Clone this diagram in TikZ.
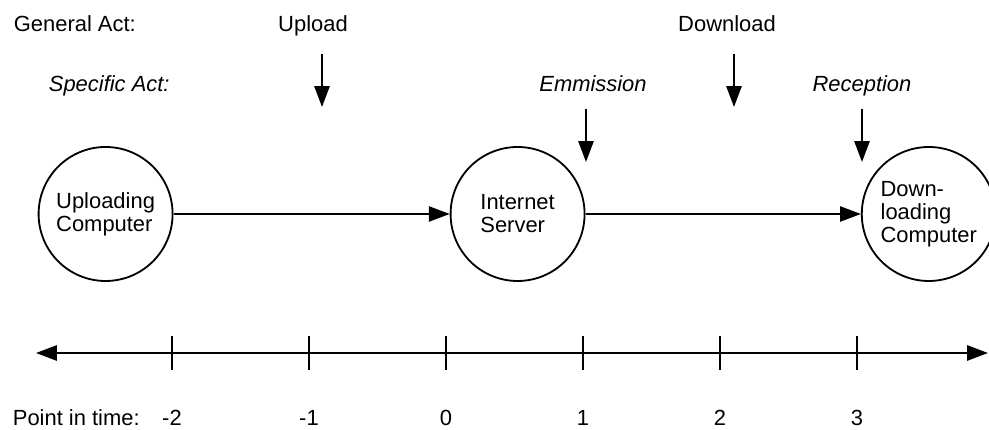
\documentclass[tikz,border=0pt]{standalone}
\usepackage{fontspec}
\setmainfont{Liberation Sans}
\usetikzlibrary{arrows.meta,positioning}
\newcommand{\bodyfont}{\fontsize{15.6pt}{16.4pt}\selectfont}
\newcommand{\tickstep}{3.425cm}
\newcommand{\tickheight}{.43cm}
\newcommand{\circlesize}{3.35cm}
\newcommand{\circlelevel}{3.475cm}
\newcommand{\uploadpos}{-8.51cm}
\newcommand{\serverpos}{1.79cm}
\newcommand{\downloadpos}{12.07cm}
\newcommand{\generallevel}{8.025cm}
\newcommand{\specificlevel}{6.525cm}
\newcommand{\labelheight}{-1.825cm}
\newcommand{\upperarrowtop}{7.475cm}
\newcommand{\upperarrowtip}{6.15cm}
\newcommand{\lowerarrowtop}{6.1cm}
\newcommand{\lowerarrowtip}{4.775cm}
\newcommand{\timeleftpos}{-10.25cm}
\newcommand{\timerightpos}{13.55cm}

\begin{document}
\begin{tikzpicture}[>={Triangle[length=.52cm,width=.38cm]},line width=1.3pt]

\tikzstyle{station}=[draw,circle,minimum size=\circlesize,inner sep=0pt,align=left,font=\bodyfont]
\tikzstyle{act}=[anchor=base,inner sep=0pt,font=\bodyfont]
\tikzstyle{specific}=[act,font=\bodyfont\itshape]

%% fix the page size
\useasboundingbox (-11.15cm,-1.925cm) rectangle (13.575cm,8.825cm);

%% three computers
\node (upl) [station, xshift=\uploadpos, yshift=\circlelevel] {Uploading\\Computer};
\node (srv) [station, xshift=\serverpos, yshift=\circlelevel] {Internet\\Server};
\node (dnl) [station, xshift=\downloadpos, yshift=\circlelevel] {Down-\\loading\\Computer};

%% transfer arrows
\draw[->] (upl.east)--(srv.west);
\draw[->] (srv.east)--(dnl.west);

%% general acts
\node (general) [act, anchor=base west] at (-10.825cm,\generallevel) {General Act:};
\node (upload) [act] at (-3.325cm,\generallevel) {Upload};
\node (download) [act] at (7.025cm,\generallevel) {Download};
\coordinate (uploadtop) at (-3.1cm,\upperarrowtop);
\coordinate (uploadtip) at (-3.1cm,\upperarrowtip);
\draw[->] (uploadtop)--(uploadtip);
\coordinate (downloadtop) at (7.2cm,\upperarrowtop);
\coordinate (downloadtip) at (7.2cm,\upperarrowtip);
\draw[->] (downloadtop)--(downloadtip);

%% specific acts
\node (specific) [specific, anchor=base west] at (-9.95cm,\specificlevel) {Specific Act:};
\node (emmission) [specific] at (3.675cm,\specificlevel) {Emmission};
\node (reception) [specific] at (10.4cm,\specificlevel) {Reception};
\coordinate (emmissiontop) at (3.5cm,\lowerarrowtop);
\coordinate (emmissiontip) at (3.5cm,\lowerarrowtip);
\draw[->] (emmissiontop)--(emmissiontip);
\coordinate (receptiontop) at (10.4cm,\lowerarrowtop);
\coordinate (receptiontip) at (10.4cm,\lowerarrowtip);
\draw[->] (receptiontop)--(receptiontip);

%% time line
\coordinate (timeleft) at (\timeleftpos,0);
\coordinate (timeright) at (\timerightpos,0);
\draw[<->] (timeleft)--(timeright);

%% ticks
\draw (-2*\tickstep,\tickheight)--(-2*\tickstep,-\tickheight);
\draw (-1*\tickstep,\tickheight)--(-1*\tickstep,-\tickheight);
\draw (0,\tickheight)--(0,-\tickheight);
\draw (1*\tickstep,\tickheight)--(1*\tickstep,-\tickheight);
\draw (2*\tickstep,\tickheight)--(2*\tickstep,-\tickheight);
\draw (3*\tickstep,\tickheight)--(3*\tickstep,-\tickheight);

%% points in time
\node (pointintime) [act, anchor=base west] at (-10.85cm,\labelheight) {Point in time:};
\node (tminustwo) [act] at (-2*\tickstep,\labelheight) {-2};
\node (tminusone) [act] at (-1*\tickstep,\labelheight) {-1};
\node (tzero) [act] at (0,\labelheight) {0};
\node (tone) [act] at (1*\tickstep,\labelheight) {1};
\node (ttwo) [act] at (2*\tickstep,\labelheight) {2};
\node (tthree) [act] at (3*\tickstep,\labelheight) {3};

\end{tikzpicture}
\end{document}
